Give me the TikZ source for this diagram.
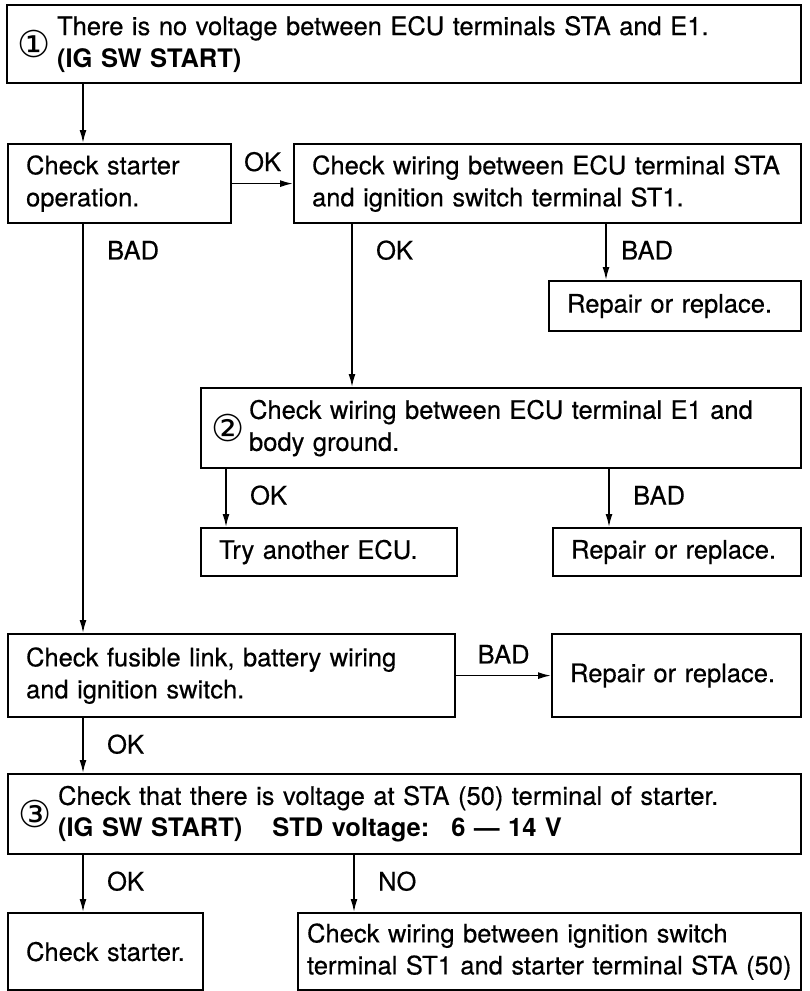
\documentclass[tikz,border=0pt]{standalone}
\usepackage{fontspec}
\setmainfont{TeX Gyre Heros}[UprightFeatures = {FakeBold = 0.4}]
\newfontfamily\circfont{DejaVu Sans}
\usetikzlibrary{arrows.meta}

% circled step number in front of a two-line text
\newcommand{\stepline}[3]{%
  \parbox[c]{#2}{{\circfont\fontsize{37}{37}\selectfont #1}}%
  \parbox[c]{700pt}{#3}}

\begin{document}
\begin{tikzpicture}[x = 1pt, y = -1pt,
  font = \fontsize{25.5}{32}\selectfont,
  >={Latex[length=13pt, width=7pt]},
  box/.style 2 args = {draw, line width = 2.2pt, anchor = north west,
    align = left, inner xsep = 18pt, inner ysep = 0pt,
    text width = #1, minimum height = #2},
  numbox/.style 2 args = {box = {#1}{#2}, inner xsep = 10pt},
  tag/.style = {pos = 0, anchor = west, xshift = 20pt, yshift = -26pt},
  link/.style = {->, line width = 1.6pt}]

\useasboundingbox (0, 0) rectangle (809, 991);

% boxes
\node[numbox = {774pt}{78pt}] (start) at (6, 4)
  {\stepline{①}{40pt}{There is no voltage between ECU terminals STA and E1.\\\textbf{(IG SW START)}}};
\node[box = {187pt}{79pt}] (starter) at (7, 143) {Check starter\\operation.};
\node[box = {471pt}{79pt}] (wiresta) at (293, 143)
  {Check wiring between ECU terminal STA\\and ignition switch terminal ST1.};
\node[box = {216pt}{50pt}] (repairA) at (548, 280) {Repair or replace.};
\node[numbox = {580pt}{80pt}] (ground) at (200, 387)
  {\stepline{②}{38pt}{Check wiring between ECU terminal E1 and\\body ground.}};
\node[box = {220pt}{48pt}] (ecu) at (200, 527) {Try another ECU.};
\node[box = {212pt}{48pt}] (repairB) at (552, 527) {Repair or replace.};
\node[box = {411pt}{83pt}] (fusible) at (7, 633)
  {Check fusible link, battery wiring\\and ignition switch.};
\node[box = {213pt}{83pt}] (repairC) at (551, 633) {Repair or replace.};
\node[numbox = {773pt}{80pt}] (voltage) at (7, 773)
  {\stepline{③}{40pt}{Check that there is voltage at STA (50) terminal of starter.\\
   \textbf{(IG SW START)\hspace{30pt}STD voltage:\hspace{22pt}6 --- 14 V}}};
\node[box = {159pt}{77pt}] (startck) at (7, 912) {Check starter.};
\node[box = {485pt}{77pt}, inner xsep = 9pt] (wirest) at (297, 912)
  {Check wiring between ignition switch\\terminal ST1 and starter terminal STA (50)};

% x positions of the vertical connectors
\coordinate (trunk) at (83, 0);
\coordinate (okA) at (352, 0);
\coordinate (badA) at (606, 0);
\coordinate (okB) at (226, 0);
\coordinate (badB) at (609, 0);
\coordinate (noC) at (354, 0);

% connectors
\draw[link] (start.south -| trunk) -- (starter.north -| trunk);
\draw[link] (starter) -- node[above = 8pt] {OK} (wiresta);
\draw[link] (starter.south -| trunk) -- node[tag] {BAD} (fusible.north -| trunk);
\draw[link] (wiresta.south -| okA) -- node[tag] {OK} (ground.north -| okA);
\draw[link] (wiresta.south -| badA) -- node[tag, xshift = -9pt] {BAD} (repairA.north -| badA);
\draw[link] (ground.south -| okB) -- node[tag] {OK} (ecu.north -| okB);
\draw[link] (ground.south -| badB) -- node[tag] {BAD} (repairB.north -| badB);
\draw[link] (fusible) -- node[above = 8pt] {BAD} (repairC);
\draw[link] (fusible.south -| trunk) -- node[tag] {OK} (voltage.north -| trunk);
\draw[link] (voltage.south -| trunk) -- node[tag] {OK} (startck.north -| trunk);
\draw[link] (voltage.south -| noC) -- node[tag] {NO} (wirest.north -| noC);
\end{tikzpicture}
\end{document}
